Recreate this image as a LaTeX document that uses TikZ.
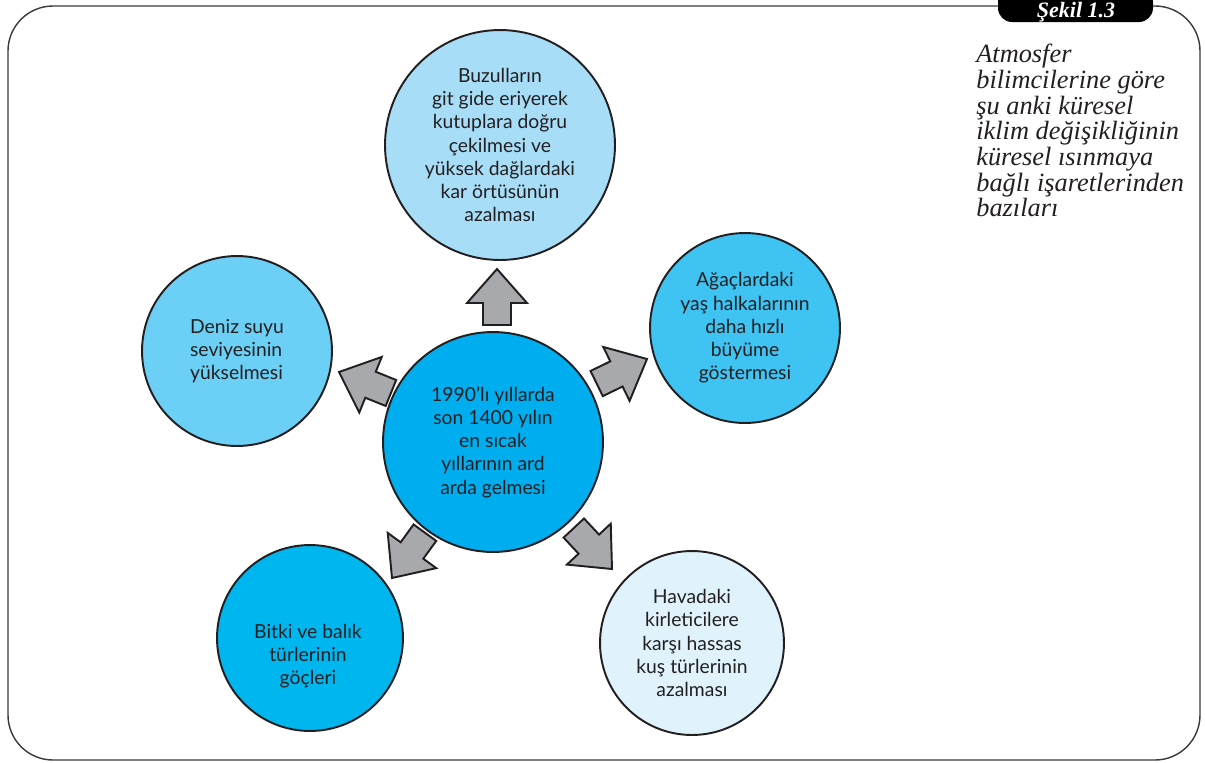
\documentclass[tikz,border=0pt]{standalone}
\usepackage{xcolor}
\usepackage{fontspec}
\setmainfont{Lato}
\newfontfamily\notefont{Liberation Serif}
\definecolor{ink}{HTML}{231F20}
\definecolor{framegray}{HTML}{3A3A3A}
\definecolor{arrowgray}{HTML}{A7A9AC}
\definecolor{icecol}{HTML}{A8DDF7}
\definecolor{seacol}{HTML}{6CCFF6}
\definecolor{treecol}{HTML}{3EC3F2}
\definecolor{corecol}{HTML}{00AEEF}
\definecolor{fishcol}{HTML}{00B6EE}
\definecolor{birdcol}{HTML}{E0F3FC}

\begin{document}
\begin{tikzpicture}[x=0.02cm, y=0.02cm,
			bubble/.style={circle, draw=ink, line width=1.1pt, inner sep=0pt, align=center, text=ink, font=\fontsize{11}{13.2}\selectfont},
			bubbletext/.style={inner sep=0pt, align=center, text=ink, font=\fontsize{11}{13.2}\selectfont},
			blockarrow/.pic={\draw[fill=arrowgray, draw=ink, line width=1.1pt] (0,0) -- (-34,30) -- (-34,14) -- (-56,14) -- (-56,-14) -- (-34,-14) -- (-34,-30) -- cycle;},
		]
		\useasboundingbox (0,0) rectangle (1205,-762);
		\clip (0,0) rectangle (1205,-762);

		\draw[framegray, line width=0.8pt, rounded corners=0.9cm] (8,-6) rectangle (1200,-760);
		\fill[black, rounded corners=8pt] (998,12) rectangle (1153,-22);
		\node[anchor=base, inner sep=0pt, text=white, font=\notefont\bfseries\itshape\fontsize{12.5}{13}\selectfont] (tab) at (1076,-17) {Şekil 1.3};

		\node[anchor=north west, inner sep=0pt, align=left, text=ink, font=\notefont\itshape\fontsize{15}{12.8}\selectfont] (note) at (976,-44)
			{Atmosfer\\bilimcilerine göre\\şu anki küresel\\iklim değişikliğinin\\küresel ısınmaya\\bağlı işaretlerinden\\bazıları};

		\node[bubble, fill=icecol, minimum size=4.6cm] (ice) at (500,-145)
			{Buzulların\\git gide eriyerek\\kutuplara doğru\\çekilmesi ve\\yüksek dağlardaki\\kar örtüsünün\\azalması};
		\node[bubble, fill=seacol, minimum size=3.8cm, align=left] (sea) at (237,-351)
			{Deniz suyu\\seviyesinin\\yükselmesi};
		\node[bubble, fill=treecol, minimum size=3.8cm] (tree) at (745,-328)
			{Ağaçlardaki\\yaş halkalarının\\daha hızlı\\büyüme\\göstermesi};
		\node[bubble, fill=corecol, minimum size=4.4cm] (core) at (493,-442)
			{1990’lı yıllarda\\son 1400 yılın\\en sıcak\\yıllarının ard\\arda gelmesi};
		\node[bubble, fill=fishcol, minimum size=3.72cm] (fish) at (310,-638) {};
		\node[bubbletext] (fishtext) at (308,-656) {Bitki ve balık\\türlerinin\\göçleri};
		\node[bubble, fill=birdcol, minimum size=3.68cm] (bird) at (692,-643)
			{Havadaki\\kirleticilere\\karşı hassas\\kuş türlerinin\\azalması};

		\pic[rotate=90]  at (497,-269) {blockarrow};
		\pic[rotate=158] at (339,-372) {blockarrow};
		\pic[rotate=26]  at (647,-359) {blockarrow};
		\pic[rotate=234] at (392,-578) {blockarrow};
		\pic[rotate=-47] at (612,-569) {blockarrow};

		\end{tikzpicture}
\end{document}
